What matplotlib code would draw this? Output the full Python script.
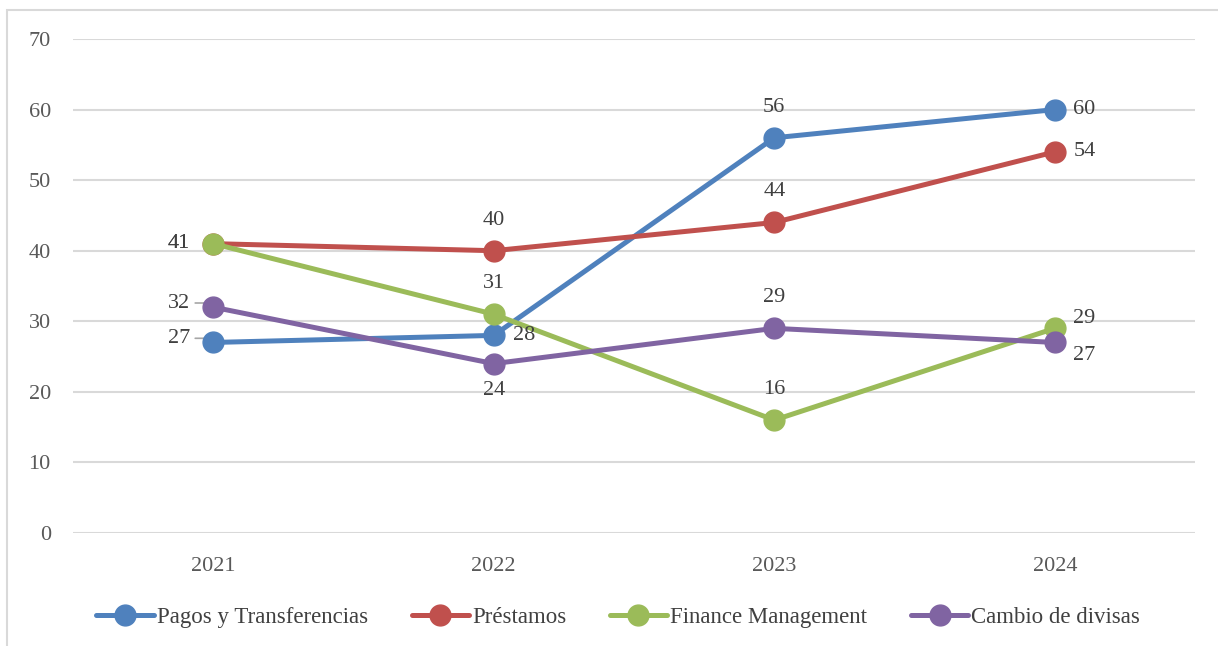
import matplotlib.pyplot as plt
from matplotlib.patches import Rectangle

years = ['2021', '2022', '2023', '2024']
pagos = [27, 28, 56, 60]
prestamos = [41, 40, 44, 54]
finance = [41, 31, 16, 29]
cambio = [32, 24, 29, 27]

names = ['Pagos y Transferencias', 'Préstamos', 'Finance Management', 'Cambio de divisas']
colors = ['#4F81BD', '#C0504D', '#9BBB59', '#8064A2']

# where each data label sits (dx, dy in points, ha)
pos = {
    'left': (-16.5, 0, 'right'),
    'left_up': (-16.5, 3, 'right'),
    'above': (0, 22, 'center'),
    'below': (0, -19, 'center'),
    'right': (13.5, 0, 'left'),
    'right_up': (13.5, 7, 'left'),
    'right_down': (13.5, -9.5, 'left'),
}
label_pos = [
    ['left_up', 'right', 'above', 'right'],
    ['left', 'above', 'above', 'right'],
    ['left', 'above', 'above', 'right_up'],
    ['left_up', 'below', 'above', 'right_down'],
]

plt.rcParams['font.family'] = ['Liberation Serif', 'DejaVu Serif']

fig = plt.figure(figsize=(12.18, 6.46), dpi=100)
ax = fig.add_axes([73 / 1218, 1 - 533 / 646, (1195 - 73) / 1218, (533 - 39) / 646])

fig.patches.append(Rectangle((7 / 1218, -0.1), 1.2, 1 - 10 / 646 + 0.1,
                             transform=fig.transFigure, fill=False,
                             edgecolor='#D9D9D9', lw=1.5))

x = range(len(years))
series = [pagos, prestamos, finance, cambio]
for s, vals in enumerate(series):
    ax.plot(x, vals, color=colors[s], lw=3.6, marker='o', ms=15,
            label=names[s], solid_capstyle='round', zorder=3)

for s, vals in enumerate(series):
    for i, v in enumerate(vals):
        dx, dy, ha = pos[label_pos[s][i]]
        ax.annotate(str(v), (i, v), xytext=(dx, dy), textcoords='offset points',
                    ha=ha, va='center', fontsize=16, color='#404040', zorder=4)

# small leader lines at 2021
for v in [pagos[0], cambio[0]]:
    ax.annotate('', (0, v), xytext=(-13, 3), textcoords='offset points',
                arrowprops=dict(arrowstyle='-', color='#A6A6A6', lw=1.2,
                                shrinkA=0, shrinkB=0,
                                connectionstyle='angle,angleA=0,angleB=60,rad=0'),
                zorder=2)

ax.set_xlim(-0.5, 3.5)
ax.set_ylim(0, 70)
ax.set_yticks(range(0, 71, 10))
ax.set_xticks(list(x))
ax.set_xticklabels(years)
ax.grid(axis='y', color='#D9D9D9', lw=1.5)
ax.set_axisbelow(True)
for sp in ax.spines.values():
    sp.set_visible(False)
ax.tick_params(length=0, labelsize=16, labelcolor='#595959')
ax.tick_params(axis='y', pad=16)
ax.tick_params(axis='x', pad=17)

ax.legend(loc='center', bbox_to_anchor=(0.486, -0.172), ncol=4, frameon=False,
          fontsize=16.5, labelcolor='#404040', handlelength=2.5, handletextpad=0.14,
          columnspacing=1.9, borderpad=0, borderaxespad=0)

plt.savefig('out.png')
